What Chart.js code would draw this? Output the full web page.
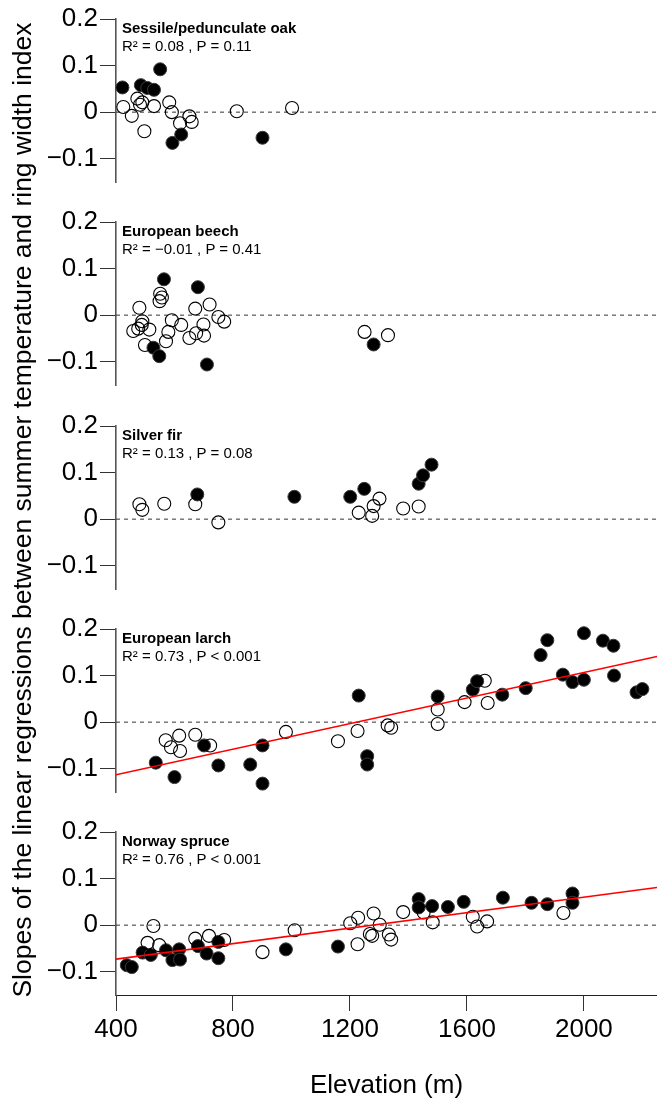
<!DOCTYPE html>
<html>
<head>
<meta charset="utf-8">
<script src="https://cdn.jsdelivr.net/npm/chart.js@4.4.1/dist/chart.umd.min.js"></script>
<style>
  html, body { margin:0; padding:0; background:#fff; }
  body { width:657px; height:1099px; position:relative; overflow:hidden; font-family:"Liberation Sans", Arial, Helvetica, sans-serif; }
  canvas { position:absolute; left:0; }
  .ptitle { position:absolute; left:122px; font-size:15px; font-weight:bold; line-height:18px; white-space:nowrap; color:#000; z-index:2; }
  .pstat { position:absolute; left:122px; font-size:15px; line-height:18px; white-space:nowrap; color:#000; z-index:2; }
  #ytitle { position:absolute; left:22px; top:510px; width:1100px; height:30px; line-height:30px; margin-left:-550px; margin-top:-15px;
            transform:rotate(-90deg); text-align:center; font-size:26.5px; white-space:nowrap; color:#000; z-index:2; }
</style>
</head>
<body>
<div id="ytitle">Slopes of the linear regressions between summer temperature and ring width index</div>
<canvas id="c0" width="657" height="203" style="top:0px"></canvas>
<canvas id="c1" width="657" height="203" style="top:203px"></canvas>
<canvas id="c2" width="657" height="203" style="top:406px"></canvas>
<canvas id="c3" width="657" height="203" style="top:609px"></canvas>
<canvas id="c4" width="657" height="287" style="top:812px"></canvas>
<script>
// ---------- data ----------
const xTicks = [400, 800, 1200, 1600, 2000];
const yTicks = [-0.1, 0, 0.1, 0.2];
const yTickLabels = ['\u22120.1', '0', '0.1', '0.2'];
const xRange = [400, 2250];
const yRange = [-0.15, 0.2];

const panelNames = ['Sessile/pedunculate oak', 'European beech', 'Silver fir', 'European larch', 'Norway spruce'];
const panelStats = ['R\u00b2 = 0.08 , P = 0.11', 'R\u00b2 = \u22120.01 , P = 0.41', 'R\u00b2 = 0.13 , P = 0.08',
                    'R\u00b2 = 0.73 , P < 0.001', 'R\u00b2 = 0.76 , P < 0.001'];

const oakFilled = [[422,0.053],[485,0.058],[507,0.052],[530,0.048],[551,0.092],[593,-0.066],[623,-0.048],[901,-0.055]];
const oakOpen = [[425,0.011],[454,-0.008],[473,0.029],[482,0.016],[490,0.021],[497,-0.041],[530,0.013],[582,0.021],
                 [591,0.000],[619,-0.024],[651,-0.009],[659,-0.021],[813,0.002],[1002,0.009]];

const beechFilled = [[528,-0.070],[548,-0.088],[564,0.077],[680,0.060],[711,-0.106],[1281,-0.063]];
const beechOpen = [[459,-0.034],[476,-0.029],[480,0.016],[488,-0.021],[490,-0.013],[499,-0.064],[514,-0.031],
                   [551,0.046],[557,0.038],[549,0.030],[571,-0.056],[579,-0.036],[591,-0.011],[623,-0.021],
                   [651,-0.049],[671,0.014],[674,-0.039],[699,-0.020],[701,-0.044],[720,0.023],[750,-0.004],
                   [770,-0.014],[1250,-0.036],[1330,-0.043]];

const firFilled = [[678,0.053],[1010,0.048],[1201,0.048],[1249,0.065],[1435,0.076],[1450,0.094],[1479,0.117]];
const firOpen = [[480,0.032],[490,0.020],[565,0.033],[671,0.032],[750,-0.007],[1230,0.014],[1276,0.007],
                 [1281,0.028],[1301,0.044],[1382,0.023],[1435,0.027]];

const larchFilled = [[536,-0.087],[600,-0.118],[701,-0.050],[750,-0.093],[859,-0.091],[901,-0.050],[901,-0.132],
                     [1230,0.057],[1259,-0.073],[1259,-0.091],[1500,0.055],[1620,0.070],[1635,0.088],[1721,0.059],
                     [1801,0.073],[1852,0.144],[1875,0.176],[1928,0.102],[1961,0.086],[2000,0.091],[2000,0.191],
                     [2065,0.175],[2101,0.164],[2103,0.100],[2180,0.064],[2200,0.071]];
const larchOpen = [[570,-0.039],[588,-0.054],[616,-0.029],[619,-0.062],[671,-0.027],[722,-0.050],[981,-0.021],
                   [1159,-0.041],[1226,-0.019],[1329,-0.007],[1341,-0.012],[1500,0.027],[1500,-0.004],
                   [1592,0.043],[1661,0.089],[1671,0.041]];
const larchFit = [[400,-0.113],[2250,0.141]];

const spruceFilled = [[437,-0.086],[454,-0.090],[491,-0.059],[519,-0.064],[571,-0.054],[593,-0.075],[616,-0.052],
                      [619,-0.074],[680,-0.045],[710,-0.061],[750,-0.036],[750,-0.071],[981,-0.052],[1159,-0.046],
                      [1435,0.056],[1435,0.038],[1481,0.041],[1535,0.039],[1589,0.050],[1723,0.059],[1821,0.048],
                      [1875,0.045],[1961,0.068],[1961,0.048]];
const spruceOpen = [[508,-0.038],[528,-0.002],[548,-0.043],[671,-0.029],[718,-0.023],[770,-0.032],[901,-0.058],
                    [1011,-0.011],[1201,0.004],[1226,-0.041],[1228,0.016],[1268,-0.019],[1276,-0.023],[1281,0.025],
                    [1302,0.001],[1333,-0.020],[1341,-0.031],[1382,0.028],[1452,0.027],[1483,0.006],[1620,0.018],
                    [1635,-0.003],[1669,0.008],[1930,0.026]];
const spruceFit = [[400,-0.073],[2250,0.081]];

const zeroLine = [[400,0],[2250,0]];

// ---------- drawing ----------
const FONT = '"Liberation Sans", Arial, Helvetica, sans-serif';
const toXY = a => a.map(p => ({x:p[0], y:p[1]}));
const panels = [
  {filled:oakFilled, open:oakOpen, fit:null},
  {filled:beechFilled, open:beechOpen, fit:null},
  {filled:firFilled, open:firOpen, fit:null},
  {filled:larchFilled, open:larchOpen, fit:larchFit},
  {filled:spruceFilled, open:spruceOpen, fit:spruceFit}
];
const AREA_H = 163;

panels.forEach((p, k) => {
  const canvasTop = 203 * k;
  const chartTop = Math.round(19 + 203.3 * k);
  const padTop = chartTop - canvasTop;
  const isBottom = k === 4;
  const cv = document.getElementById('c' + k);
  const padBottom = isBottom ? 0 : (cv.height - padTop - AREA_H);

  // panel text
  const t = document.createElement('div');
  t.className = 'ptitle'; t.textContent = panelNames[k];
  t.style.top = (chartTop - 0.5) + 'px';
  document.body.appendChild(t);
  const s = document.createElement('div');
  s.className = 'pstat'; s.textContent = panelStats[k];
  s.style.top = (chartTop + 18) + 'px';
  document.body.appendChild(s);

  const datasets = [
    {type:'line', data:toXY(zeroLine), borderColor:'#333', borderWidth:1, borderDash:[4,4],
     pointRadius:0, order:6},
    {type:'scatter', data:toXY(p.filled), backgroundColor:'#000', borderColor:'#3a3a3a', borderWidth:1,
     pointRadius:6.5, order:4, clip:false},
    {type:'scatter', data:toXY(p.open), backgroundColor:'rgba(255,255,255,0)', borderColor:'#000', borderWidth:1.1,
     pointRadius:6.5, order:3, clip:false}
  ];
  if (p.fit) datasets.push({type:'line', data:toXY(p.fit), borderColor:'#ff0000', borderWidth:1.6,
     pointRadius:0, order:1});

  new Chart(cv, {
    data:{datasets},
    options:{
      responsive:false, animation:false, devicePixelRatio:1,
      layout:{autoPadding:false, padding:{top:padTop, bottom:padBottom, left:0, right:0}},
      plugins:{legend:{display:false}, tooltip:{enabled:false}, title:{display:false}},
      events:[],
      scales:{
        x:{
          type:'linear', min:xRange[0], max:xRange[1], display:isBottom,
          afterBuildTicks:sc => { sc.ticks = xTicks.map(v => ({value:v})); },
          afterFit:sc => { if (isBottom) sc.height = 104; },
          grid:{drawOnChartArea:false, drawTicks:true, tickLength:16, color:'#333', lineWidth:1},
          border:{display:true, color:'#222', width:1},
          ticks:{padding:3, color:'#000', font:{family:FONT, size:26}, maxRotation:0, autoSkip:false,
                 callback:(v, i) => String(xTicks[i])},
          title:{display:true, text:'Elevation (m)', color:'#000', font:{family:FONT, size:26, lineHeight:1},
                 padding:{top:0, bottom:0}}
        },
        y:{
          type:'linear', min:yRange[0], max:yRange[1],
          afterBuildTicks:sc => { sc.ticks = yTicks.map(v => ({value:v})); },
          afterFit:sc => { sc.width = 116; },
          grid:{drawOnChartArea:false, drawTicks:true, tickLength:16, color:'#333', lineWidth:1},
          border:{display:true, color:'#555', width:1.6},
          ticks:{padding:2, color:'#000', font:{family:FONT, size:26}, autoSkip:false,
                 callback:(v, i) => yTickLabels[i]}
        }
      }
    }
  });
});
</script>
</body>
</html>
